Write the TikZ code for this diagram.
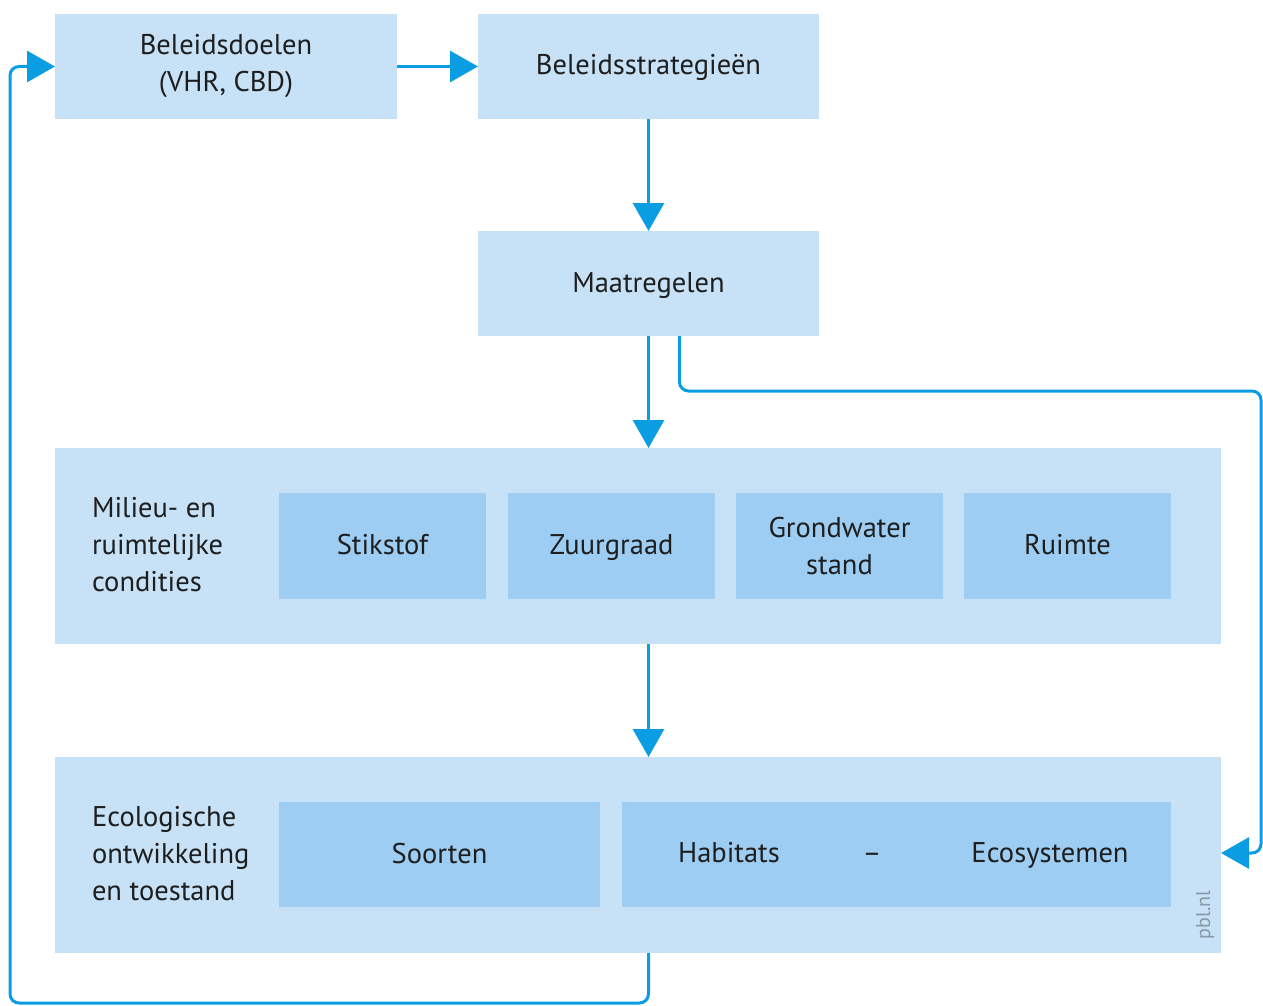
\documentclass[tikz,border=0pt]{standalone}
\usepackage{fontspec}
\setmainfont{PT Sans}
\usetikzlibrary{arrows.meta}
\definecolor{boxlight}{HTML}{C7E2F7}
\definecolor{boxdark}{HTML}{9DCDF2}
\definecolor{arrowblue}{HTML}{0A9DE2}
\definecolor{txt}{HTML}{1E1E1E}
\definecolor{pblgrey}{HTML}{8796A4}
\tikzset{
  base/.style={inner sep=0pt, outer sep=0pt, text=txt, font=\fontsize{28.5}{37}\selectfont, align=center},
  one/.style={text height=22pt, text depth=5pt},
  outerbox/.style={base, fill=boxlight, draw=none},
  innerbox/.style={base, fill=boxdark, draw=none},
  lbl/.style={base, align=left, anchor=west},
  arr/.style={draw=arrowblue, line width=3pt, -{Triangle[length=28pt,width=31pt]}},
}
\begin{document}
\begin{tikzpicture}[x=1pt,y=-1pt]
\useasboundingbox (0,0) rectangle (1263,1006);
% top boxes
\node[outerbox, minimum width=342pt, minimum height=105pt] (doel) at (226,66.5) {Beleidsdoelen\\(VHR, CBD)};
\node[outerbox, one, minimum width=341pt, minimum height=105pt] (strat) at (648.5,66.5) {Beleidsstrategieën};
\node[outerbox, one, minimum width=341pt, minimum height=105pt] (maat) at (648.5,283.5) {Maatregelen};
% conditions
\node[outerbox, minimum width=1166pt, minimum height=196pt] (cond) at (638,546) {};
\node[lbl] (condl) at (92,545) {Milieu- en\\ruimtelijke\\condities};
\node[innerbox, one, minimum width=207pt, minimum height=106pt] (stik) at (382.5,546) {Stikstof};
\node[innerbox, one, minimum width=207pt, minimum height=106pt] (zuur) at (611.5,546) {Zuurgraad};
\node[innerbox, minimum width=207pt, minimum height=106pt] (grond) at (839.5,546) {Grondwater\\stand};
\node[innerbox, one, minimum width=207pt, minimum height=106pt] (ruimte) at (1067.5,546) {Ruimte};
% ecology
\node[outerbox, minimum width=1166pt, minimum height=196pt] (eco) at (638,855) {};
\node[lbl] (ecol) at (92,854) {Ecologische\\ontwikkeling\\en toestand};
\node[innerbox, one, minimum width=321pt, minimum height=105pt] (soort) at (439.5,854.5) {Soorten};
\node[innerbox, minimum width=549pt, minimum height=105pt] (hab) at (896.5,854.5) {};
\node[base, one] (habt) at (729,854) {Habitats};
\node[base, one] (dash) at (872,854) {–};
\node[base, one] (ecot) at (1050,854) {Ecosystemen};
\node[base, rotate=90, text=pblgrey, font=\fontsize{20}{22}\selectfont] (pbl) at (1205,915) {pbl.nl};
% arrows
\draw[arr] (doel.east) -- (strat.west);
\draw[arr] (strat.south) -- (maat.north);
\draw[arr] (maat.south) -- (cond.north -| maat.south);
\draw[arr] (cond.south -| maat.south) -- (eco.north -| maat.south);
\draw[arr, rounded corners=9pt] ([xshift=31pt]maat.south) -- ++(0,55) -| (1261,853) -- (eco.east |- 0,853);
\draw[arr, rounded corners=9pt] (eco.south -| maat.south) -- ++(0,50) -| ([xshift=-45pt]doel.west) -- (doel.west);
\end{tikzpicture}
\end{document}
